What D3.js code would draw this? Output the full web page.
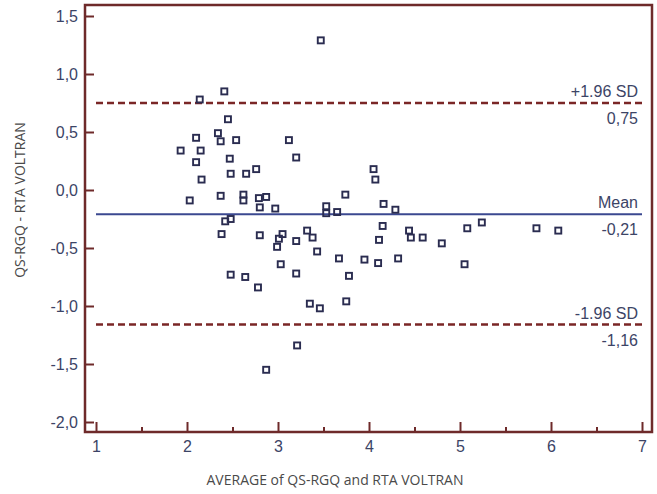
<!DOCTYPE html>
<html>
<head>
<meta charset="utf-8">
<script src="https://cdn.jsdelivr.net/npm/d3@7"></script>
<style>
    body { margin: 0; background: #fff; }
    svg { display: block; }
</style>
</head>
<body>
<div id="chart"></div>
<script>
// Bland-Altman data: average of the two methods vs. their difference
let averages = [2.03, 1.93, 2.10, 2.15, 2.10, 2.16, 2.14, 2.41, 2.45, 2.34,
    2.37, 2.54, 2.47, 2.48, 2.65, 2.76, 2.37, 2.62, 2.62, 2.79,
    2.87, 2.80, 2.97, 2.42, 2.48, 2.38, 2.80, 3.05, 3.01, 2.99,
    3.20, 3.32, 3.38, 3.43, 3.12, 3.20, 3.47, 3.74, 3.53, 3.53,
    3.65, 4.05, 4.07, 4.16, 4.29, 4.15, 4.11, 3.67, 3.95, 4.10,
    4.32, 3.03, 3.20, 3.78, 3.75, 3.35, 3.46, 3.21, 2.48, 2.64,
    2.78, 2.87, 4.44, 4.46, 4.59, 4.80, 5.08, 5.24, 5.05, 5.84,
    6.08];
let differences = [-0.09, 0.34, 0.45, 0.34, 0.24, 0.09, 0.78, 0.85, 0.61, 0.49,
    0.42, 0.43, 0.27, 0.14, 0.14, 0.18, -0.05, -0.04, -0.09, -0.07,
    -0.06, -0.15, -0.16, -0.27, -0.25, -0.38, -0.39, -0.38, -0.42, -0.49,
    -0.44, -0.35, -0.41, -0.53, 0.43, 0.28, 1.29, -0.04, -0.14, -0.20,
    -0.19, 0.18, 0.09, -0.12, -0.17, -0.31, -0.43, -0.59, -0.60, -0.63,
    -0.59, -0.64, -0.72, -0.74, -0.96, -0.98, -1.02, -1.34, -0.73, -0.75,
    -0.84, -1.55, -0.35, -0.41, -0.41, -0.46, -0.33, -0.28, -0.64, -0.33,
    -0.35];

// reference lines
let refValues = [0.75, -0.21, -1.16];
let refNames = ["+1.96 SD", "Mean", "-1.96 SD"];
let refLabels = ["0,75", "-0,21", "-1,16"];

let xTicks = [1, 2, 3, 4, 5, 6, 7];
let xMinorTicks = [1.5, 2.5, 3.5, 4.5, 5.5, 6.5];
let yTicks = [1.5, 1.0, 0.5, 0.0, -0.5, -1.0, -1.5, -2.0];

let width = 657, height = 494;
let frame = {left: 85, right: 652, top: 5, bottom: 432};

let frameColor = "#6e2a2a";
let textColor = "#3c4466";
let labelFont = "Liberation Sans, Arial, sans-serif";

let svg = d3.select("#chart").append("svg")
    .attr("width", width)
    .attr("height", height);

// Scales
let x = d3.scaleLinear()
    .domain([1, 7])
    .range([96, 642]);
let y = d3.scaleLinear()
    .domain([-2, 1.5])
    .range([422, 16]);

// comma decimals, plain hyphen for minus
let fmt = function(d) {
    return d3.format(".1f")(d).replace(".", ",").replace("\u2212", "-");
};

// Axes (ticks point inward)
let yAxis = d3.axisLeft(y)
    .tickValues(yTicks)
    .tickSizeInner(-9)
    .tickSizeOuter(0)
    .tickPadding(7)
    .tickFormat(fmt);

let xAxis = d3.axisBottom(x)
    .tickValues(xTicks)
    .tickSizeInner(-10)
    .tickSizeOuter(0)
    .tickPadding(9)
    .tickFormat(d3.format("d"));

let xMinor = d3.axisBottom(x)
    .tickValues(xMinorTicks)
    .tickSizeInner(-5)
    .tickSizeOuter(0)
    .tickFormat("");

let gy = svg.append("g")
    .attr("transform", "translate(" + frame.left + ",0)")
    .call(yAxis);
let gx = svg.append("g")
    .attr("transform", "translate(0," + frame.bottom + ")")
    .call(xAxis);
let gxm = svg.append("g")
    .attr("transform", "translate(0," + frame.bottom + ")")
    .call(xMinor);

[gy, gx, gxm].forEach(function(g) {
    g.select(".domain").remove();
    g.selectAll(".tick line")
        .attr("stroke", frameColor)
        .attr("stroke-width", 2);
    g.selectAll(".tick text")
        .attr("fill", textColor)
        .attr("font-family", labelFont)
        .attr("font-size", "16px");
});

// Plot frame
svg.append("rect")
    .attr("x", frame.left)
    .attr("y", frame.top)
    .attr("width", frame.right - frame.left)
    .attr("height", frame.bottom - frame.top)
    .attr("fill", "none")
    .attr("stroke", frameColor)
    .attr("stroke-width", 2.5);

// Mean and limits of agreement
let refs = svg.selectAll(".ref")
    .data(refValues)
    .enter().append("g")
    .attr("class", "ref");

refs.append("line")
    .attr("x1", x(1))
    .attr("x2", x(7))
    .attr("y1", function(d) { return y(d); })
    .attr("y2", function(d) { return y(d); })
    .attr("stroke", function(d, i) { return i == 1 ? "#3b4890" : "#7a2626"; })
    .attr("stroke-width", function(d, i) { return i == 1 ? 2 : 2.5; })
    .attr("stroke-dasharray", function(d, i) { return i == 1 ? null : "7,4"; });

refs.append("text")
    .attr("x", 638)
    .attr("y", function(d) { return y(d) - 6; })
    .attr("text-anchor", "end")
    .attr("fill", textColor)
    .attr("font-family", labelFont)
    .attr("font-size", "16px")
    .text(function(d, i) { return refNames[i]; });

refs.append("text")
    .attr("x", 638)
    .attr("y", function(d) { return y(d) + 21; })
    .attr("text-anchor", "end")
    .attr("fill", textColor)
    .attr("font-family", labelFont)
    .attr("font-size", "16px")
    .text(function(d, i) { return refLabels[i]; });

// Data points as open squares
svg.selectAll(".pt")
    .data(averages)
    .enter().append("rect")
    .attr("class", "pt")
    .attr("x", function(d) { return x(d) - 3; })
    .attr("y", function(d, i) { return y(differences[i]) - 3; })
    .attr("width", 6)
    .attr("height", 6)
    .attr("fill", "none")
    .attr("stroke", "#2a2c50")
    .attr("stroke-width", 1.9);

// Axis titles
svg.append("text")
    .attr("x", 335)
    .attr("y", 485)
    .attr("text-anchor", "middle")
    .attr("fill", "#4a4a4a")
    .attr("font-family", "Open Sans, sans-serif")
    .attr("font-size", "14px")
    .text("AVERAGE of QS-RGQ and RTA VOLTRAN");

svg.append("text")
    .attr("transform", "translate(25,200) rotate(-90)")
    .attr("text-anchor", "middle")
    .attr("fill", "#4a4a4a")
    .attr("font-family", "Open Sans, sans-serif")
    .attr("font-size", "14px")
    .text("QS-RGQ - RTA VOLTRAN");
</script>
</body>
</html>
